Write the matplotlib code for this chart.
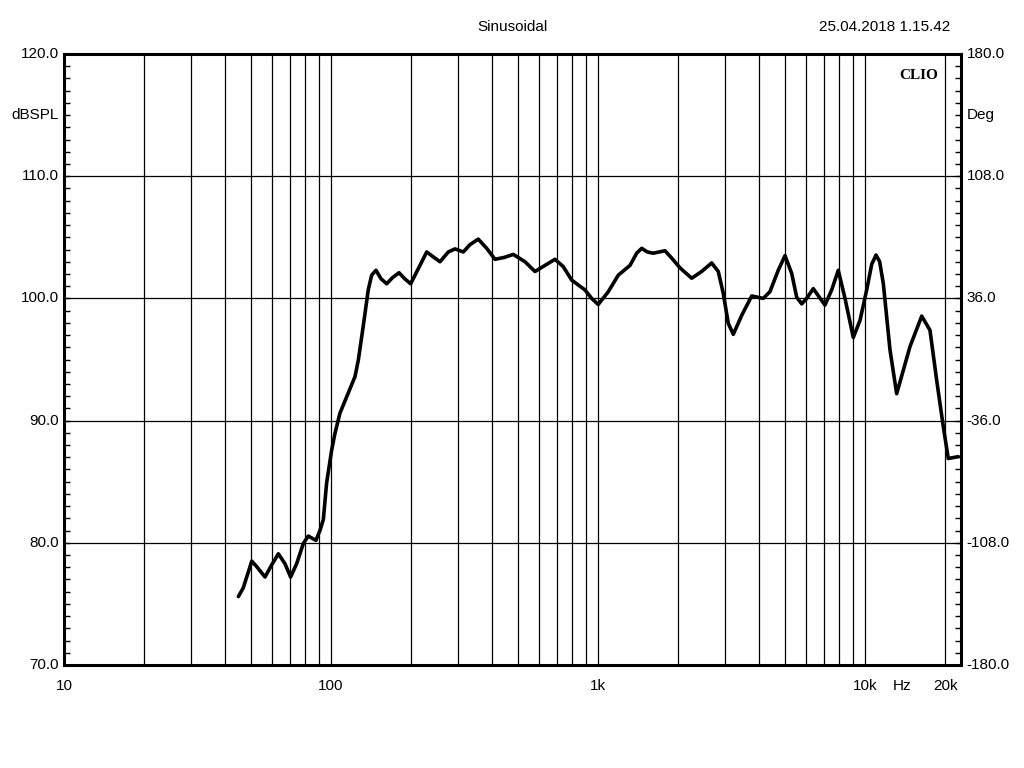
import matplotlib
matplotlib.use("Agg")
import matplotlib.pyplot as plt
from matplotlib.ticker import FixedLocator, NullFormatter, MultipleLocator

# ---- data ----
freq_hz = [45, 46.9, 49.0, 50.5, 52.7, 56.6, 60.0, 63.5, 67.2, 70.6, 74.4,
           78.8, 82.2, 87.8, 90.9, 93.6, 96.3, 100.6, 103.5, 108, 114.5, 123,
           126.6, 132, 137.9, 142, 147.4, 154, 161.7, 170, 179.8, 189, 198.8,
           215.4, 228.3, 241.5, 256, 275, 291.3, 313, 331.6, 356, 382.9,
           411.4, 445, 481.7, 533, 580.8, 633, 690, 741, 797, 893, 947, 1002,
           1093, 1191, 1318, 1396, 1458, 1530, 1611, 1782, 1888, 2028, 2244,
           2444, 2666, 2822, 2947, 3076, 3212, 3452, 3765, 4160, 4406, 4733,
           5017, 5315, 5549, 5795, 6048, 6404, 7080, 7506, 7943, 8418, 9041,
           9580, 10150, 10600, 11000, 11350, 11716, 12405, 13144, 14740,
           16310, 17516, 18560, 19650, 20510, 22360]
spl_db = [75.6, 76.3, 77.6, 78.5, 78.05, 77.2, 78.2, 79.1, 78.3, 77.2, 78.3,
          79.95, 80.55, 80.2, 81.0, 81.9, 84.9, 87.6, 88.96, 90.6, 91.95, 93.6,
          94.96, 97.7, 100.7, 101.9, 102.3, 101.6, 101.2, 101.7, 102.1, 101.6,
          101.2, 102.7, 103.8, 103.4, 103.0, 103.8, 104.05, 103.8, 104.4,
          104.85, 104.1, 103.2, 103.35, 103.6, 103.0, 102.2, 102.7, 103.2,
          102.6, 101.5, 100.7, 100.0, 99.5, 100.55, 101.9, 102.7, 103.7,
          104.1, 103.8, 103.7, 103.9, 103.3, 102.5, 101.65, 102.2, 102.9,
          102.2, 100.4, 97.96, 97.06, 98.6, 100.2, 100.0, 100.55, 102.3, 103.5,
          102.05, 100.1, 99.55, 100.0, 100.8, 99.45, 100.7, 102.3, 100.0, 96.8,
          98.2, 100.7, 102.8, 103.55, 103.0, 101.2, 95.8, 92.2, 96.05, 98.55,
          97.4, 93.3, 89.5, 86.9, 87.05]

x_grid = [20, 30, 40, 50, 60, 70, 80, 90, 100, 200, 300, 400, 500, 600, 700,
          800, 900, 1000, 2000, 3000, 4000, 5000, 6000, 7000, 8000, 9000,
          10000, 20000]
x_label_pos = [10, 100, 1000, 10000, 20000]
x_label_txt = ["10", "100", "1k", "10k", "20k"]
y_left_ticks = [70, 80, 90, 100, 110, 120]
y_left_txt = ["70.0", "80.0", "90.0", "100.0", "110.0", "120.0"]
y_right_txt = ["-180.0", "-108.0", "-36.0", "36.0", "108.0", "180.0"]

FONT = ["Liberation Sans Narrow", "Liberation Sans", "DejaVu Sans"]
plt.rcParams["font.family"] = FONT

fig = plt.figure(figsize=(10.24, 7.68), dpi=100)
ax = fig.add_axes([64/1024, 1-665/768, (961-64)/1024, (665-54)/768])
ax.set_xscale("log")
ax.set_xlim(10, 22890)
ax.set_ylim(70, 120)

for xv in x_grid:
    ax.axvline(xv, color="black", lw=0.9, zorder=1)
for yv in [80, 90, 100, 110]:
    ax.axhline(yv, color="black", lw=0.9, zorder=1)

ax.plot(freq_hz, spl_db, color="black", lw=2.6, solid_joinstyle="round",
        solid_capstyle="round", zorder=3)

for s in ax.spines.values():
    s.set_linewidth(2.2)

ax.set_xticks([])
ax.xaxis.set_minor_locator(FixedLocator([]))
ax.yaxis.set_major_locator(FixedLocator(y_left_ticks))
ax.yaxis.set_minor_locator(MultipleLocator(1))
ax.yaxis.set_major_formatter(NullFormatter())
ax.tick_params(axis="y", which="both", direction="in", length=4, width=1,
               left=True, right=True)

# y tick labels
for yv, lt, rt in zip(y_left_ticks, y_left_txt, y_right_txt):
    ax.text(-0.006, (yv-70)/50, lt, transform=ax.transAxes, ha="right",
            va="center", fontsize=11)
    ax.text(1.006, (yv-70)/50, rt, transform=ax.transAxes, ha="left",
            va="center", fontsize=11)
ax.text(-0.006, 0.9, "dBSPL", transform=ax.transAxes, ha="right",
        va="center", fontsize=11)
ax.text(1.006, 0.9, "Deg", transform=ax.transAxes, ha="left",
        va="center", fontsize=11)

# x labels
for xv, t in zip(x_label_pos, x_label_txt):
    ax.text(xv, -0.034, t, transform=ax.get_xaxis_transform(), ha="center",
            va="center", fontsize=11)
ax.text(13800, -0.034, "Hz", transform=ax.get_xaxis_transform(),
        ha="center", va="center", fontsize=11)

fig.text(512/1024, 1-27/768, "Sinusoidal", ha="center", va="center", fontsize=11)
fig.text(950/1024, 1-27/768, "25.04.2018 1.15.42", ha="right", va="center",
         fontsize=11)
ax.text(0.975, 0.975, "CLIO", transform=ax.transAxes, ha="right", va="top",
        fontsize=11, fontweight="bold",
        family=["Liberation Serif", "DejaVu Serif"])

fig.savefig("out.png", dpi=100, facecolor="white")
